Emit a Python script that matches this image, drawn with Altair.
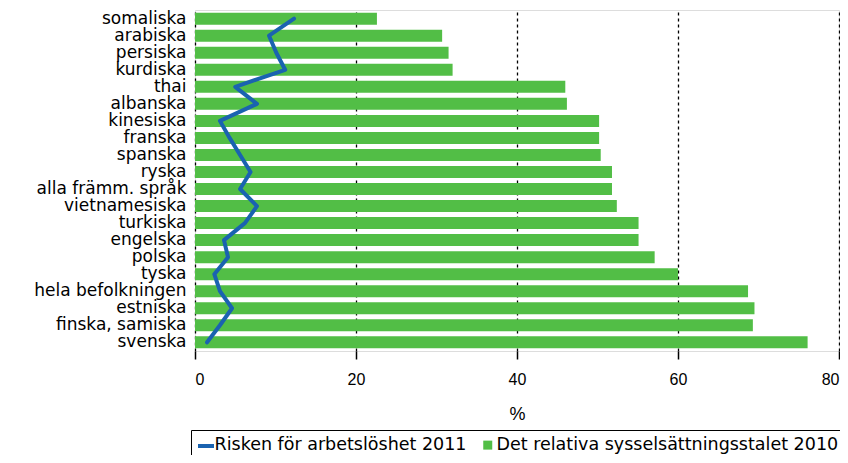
import altair as alt
import pandas as pd

languages = ["somaliska", "arabiska", "persiska", "kurdiska", "thai", "albanska",
             "kinesiska", "franska", "spanska", "ryska", "alla främm. språk",
             "vietnamesiska", "turkiska", "engelska", "polska", "tyska",
             "hela befolkningen", "estniska", "finska, samiska", "svenska"]
employment_2010 = [22.6, 30.7, 31.5, 32.0, 46.0, 46.2, 50.2, 50.2, 50.4, 51.8, 51.8,
                   52.4, 55.1, 55.1, 57.1, 60.0, 68.7, 69.5, 69.3, 76.1]
unemployment_risk_2011 = [12.3, 9.2, 10.1, 11.2, 5.0, 7.7, 3.1, 4.3, 5.6, 6.9, 5.6,
                          7.7, 6.2, 3.6, 4.1, 2.4, 3.1, 4.6, 3.1, 1.5]
x_ticks = [0, 20, 40, 60, 80]

S_LINE = "Risken för arbetslöshet 2011"
S_BAR = "Det relativa sysselsättningsstalet 2010"
BLUE = "#1A63B0"
GREEN = "#52BE46"
FONT = "Liberation Sans"
LFONT = "DejaVu Sans"

bars = pd.DataFrame({"lang": languages, "value": employment_2010, "series": S_BAR})
line = pd.DataFrame({"lang": languages, "value": unemployment_risk_2011, "series": S_LINE,
                     "idx": range(len(languages))})

# Framed legend with both labels (first symbol invisible)
fill = alt.Fill(
    "series:N",
    scale=alt.Scale(domain=[S_LINE, S_BAR], range=["transparent", GREEN]),
    legend=alt.Legend(
        title=None, orient="none", legendX=-4, legendY=420, direction="horizontal",
        strokeColor="#000", padding=6, labelFontSize=17.5, labelFont=LFONT,
        labelColor="#000", labelOffset=0, labelLimit=500, columnPadding=12,
        symbolType="square", symbolSize=81, symbolStrokeWidth=0, symbolOpacity=1,
    ),
)
# Line symbol overlaid on the first entry of the framed legend
stroke = alt.Stroke(
    "series:N",
    scale=alt.Scale(domain=[S_LINE], range=[BLUE]),
    legend=alt.Legend(
        title=None, orient="none", legendX=-5, legendY=420, direction="horizontal",
        padding=6, labelFontSize=17.5, labelFont=LFONT, labelExpr="''",
        symbolType="stroke", symbolSize=256, symbolStrokeWidth=4, symbolOpacity=1,
    ),
)

y = alt.Y("lang:N", sort=languages, title=None,
          scale=alt.Scale(paddingInner=0.3, paddingOuter=0.16),
          axis=alt.Axis(ticks=False, domain=False, grid=False, labelFontSize=17,
                        labelFont=LFONT, labelColor="#000", labelPadding=9))
x = alt.X("value:Q", title="%", scale=alt.Scale(domain=[0, 80], nice=False),
          axis=alt.Axis(values=x_ticks, domain=False, grid=True, gridColor="#000",
                        gridDash=[3, 3], gridWidth=1.3, gridOpacity=1,
                        tickColor="#000", tickSize=8, tickWidth=1.5,
                        labelFontSize=16, labelFont=FONT, labelColor="#000",
                        labelPadding=12, titleFontSize=18, titleFont=FONT,
                        titleFontWeight="normal", titleColor="#000", titlePadding=18))

bar_layer = alt.Chart(bars).mark_bar(size=12).encode(x=x, y=y, fill=fill)
line_layer = alt.Chart(line).mark_line(strokeWidth=4, strokeCap="round",
                                       strokeJoin="round").encode(
    x=x, y=y, stroke=stroke, order=alt.Order("idx:Q"))

chart = alt.layer(bar_layer, line_layer).resolve_scale(
    fill="independent", stroke="independent"
).properties(
    width=644, height=341,
    autosize=alt.AutoSizeParams(type="none"),
    padding={"left": 187, "top": 2, "right": 1, "bottom": 104},
).configure_view(stroke="#000", strokeWidth=1.5).configure(background="white")

chart.save("out.html", embed_options={"renderer": "svg", "actions": False})
